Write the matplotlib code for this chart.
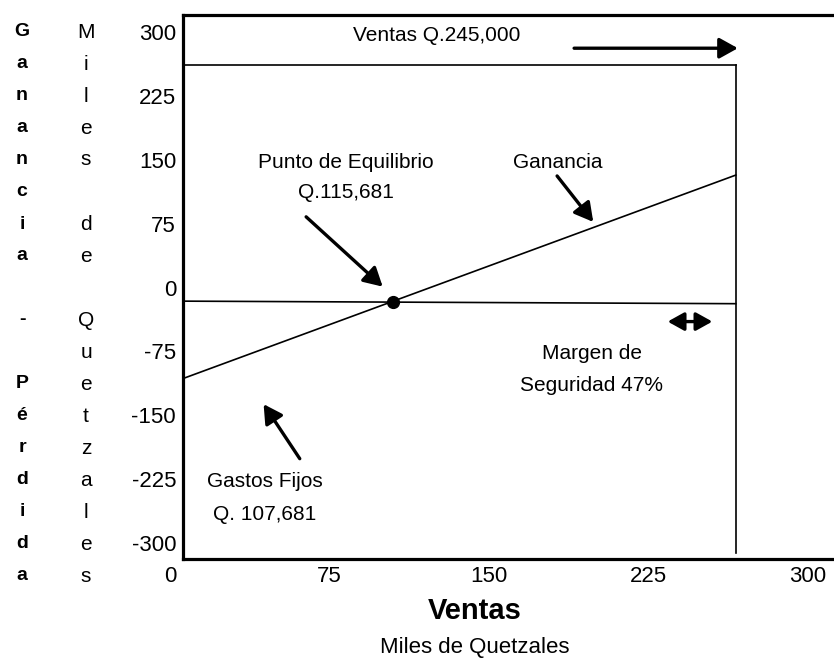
import matplotlib
matplotlib.use("Agg")
import matplotlib.pyplot as plt
from matplotlib import transforms

plt.rcParams['font.family'] = ['Liberation Sans', 'DejaVu Sans']

# ticks (miles de quetzales)
x_ticks = [0, 75, 150, 225, 300]
y_ticks = [300, 225, 150, 75, 0, -75, -150, -225, -300]

# lineas del grafico (coordenadas)
ganancia_x = [6, 266]
ganancia_y = [-107, 132]
cero_x = [6, 266]
cero_y = [-16, -19]
ventas_x = 266
ventas_top = 261
ventas_bottom = -312
equilibrio = (105, -17)

fig = plt.figure(figsize=(8.34, 6.59), dpi=100)
ax = fig.add_axes([183 / 834, 1 - 559 / 659, 651 / 834, 544 / 659])
ax.set_xlim(6.1, 312.2)
ax.set_ylim(-318.8, 320)

for side in ['left', 'top', 'bottom']:
    ax.spines[side].set_linewidth(2.3)
ax.spines['right'].set_visible(False)

ax.set_yticks(y_ticks)
ax.set_yticklabels([str(v) for v in y_ticks], fontsize=16)
ax.tick_params(axis='y', length=0, pad=5)
ax.set_xticks([])

# x tick labels sit left of the spine in the original, so draw them as text
trans = transforms.blended_transform_factory(ax.transData, ax.transAxes)
for v in x_ticks:
    ax.text(v, -0.033, str(v), transform=trans, ha='center', va='center',
            fontsize=16, clip_on=False)

# lineas
ax.plot(ganancia_x, ganancia_y, color='k', lw=1.2)
ax.plot(cero_x, cero_y, color='k', lw=1.2)
ax.plot([ventas_x, ventas_x], [ventas_bottom, ventas_top], color='k', lw=1.2)
ax.plot([6.1, ventas_x], [ventas_top, ventas_top], color='k', lw=1.2)
ax.plot(*equilibrio, marker='o', color='k', ms=8.5)

arrow = dict(arrowstyle='-|>,head_length=0.45,head_width=0.25', lw=2.4, color='k',
             mutation_scale=25, shrinkA=0, shrinkB=0)
ax.annotate('', xy=(267, 281), xytext=(190, 281), arrowprops=arrow)
ax.annotate('', xy=(100, 1), xytext=(64, 83), arrowprops=arrow)
ax.annotate('', xy=(199, 77), xytext=(182, 131), arrowprops=arrow)
ax.annotate('', xy=(44, -137), xytext=(61, -201), arrowprops=arrow)
ax.annotate('', xy=(255, -40), xytext=(234, -40),
            arrowprops=dict(arrowstyle='<|-|>,head_length=0.45,head_width=0.25', lw=2.4,
                            color='k', mutation_scale=22, shrinkA=0, shrinkB=0))

fs = 15
ax.text(125.5, 296, 'Ventas Q.245,000', ha='center', va='center', fontsize=fs)
ax.text(82.7, 147, 'Punto de Equilibrio', ha='center', va='center', fontsize=fs)
ax.text(82.7, 111, 'Q.115,681', ha='center', va='center', fontsize=fs)
ax.text(182.4, 147, 'Ganancia', ha='center', va='center', fontsize=fs)
ax.text(198.4, -77, 'Margen de', ha='center', va='center', fontsize=fs)
ax.text(198.4, -114.5, 'Seguridad 47%', ha='center', va='center', fontsize=fs)
ax.text(44.7, -228, 'Gastos Fijos', ha='center', va='center', fontsize=fs)
ax.text(44.7, -266, 'Q. 107,681', ha='center', va='center', fontsize=fs)

# etiquetas verticales, letra por letra
for i, ch in enumerate('Ganancia - Pérdida'):
    fig.text(22 / 834, 1 - (32 + 32 * i) / 659, ch, ha='center', va='center',
             fontsize=14, fontweight='bold')
for i, ch in enumerate('Miles de Quetzales'):
    fig.text(86 / 834, 1 - (32 + 32 * i) / 659, ch, ha='center', va='center',
             fontsize=15)

fig.text(475 / 834, 1 - 611 / 659, 'Ventas', ha='center', va='center',
         fontsize=21, fontweight='bold')
fig.text(475 / 834, 1 - 647 / 659, 'Miles de Quetzales', ha='center', va='center',
         fontsize=16)

fig.savefig('out.png', dpi=100)
